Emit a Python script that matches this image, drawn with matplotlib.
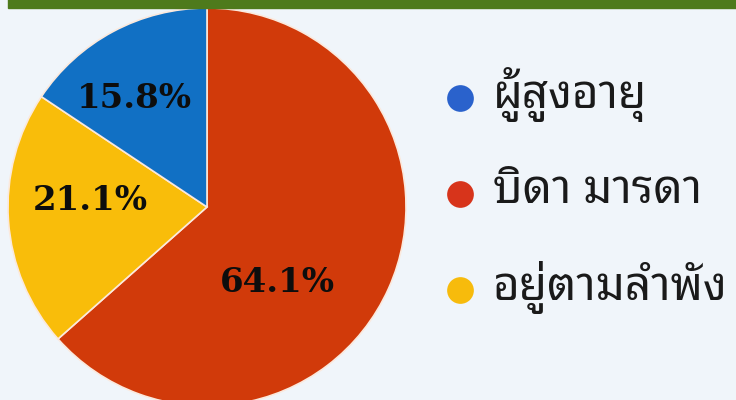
import matplotlib
matplotlib.use("Agg")
import matplotlib.pyplot as plt
from matplotlib.patches import Rectangle

# data (pie order: clockwise from 12 o'clock)
slice_names = ["บิดา มารดา", "อยู่ตามลำพัง", "ผู้สูงอายุ"]
slice_values = [64.1, 21.1, 15.8]
slice_labels = ["64.1%", "21.1%", "15.8%"]
slice_colors = ["#d13a0a", "#f9bd0a", "#1170c4"]

# legend order as shown on the right
legend_names = ["ผู้สูงอายุ", "บิดา มารดา", "อยู่ตามลำพัง"]
legend_colors = ["#2a62cc", "#d7341b", "#f7bb0c"]

bg = "#f0f5fa"
fig = plt.figure(figsize=(7.36, 4.0), dpi=100, facecolor=bg)
ax = fig.add_axes([0, 0, 1, 1])
ax.set_facecolor(bg)

wedges, _ = ax.pie(slice_values, colors=slice_colors, startangle=90,
                   counterclock=False, center=(207, 193), radius=199,
                   wedgeprops=dict(edgecolor="#fbe9dd", linewidth=1.2),
                   frame=True)
ax.set_xlim(0, 736)
ax.set_ylim(0, 400)
ax.set_aspect("equal")
ax.axis("off")

# label spots, per slice
label_pos = [(277, 117), (90, 199), (134, 301)]
for (x, y), t in zip(label_pos, slice_labels):
    ax.text(x, y, t, ha="center", va="center", fontsize=24.5,
            fontweight="heavy", family="DejaVu Serif",
            color="#0d0d0d")

# green band at the top
ax.add_patch(Rectangle((8, 392), 736, 10, color="#4e7a1c", zorder=5))

for i, (name, c) in enumerate(zip(legend_names, legend_colors)):
    y = 302 - i * 96
    ax.scatter([460], [y], s=370, color=c, zorder=6, linewidths=0)
    ax.text(493, y + 3, name, ha="left", va="center", fontsize=33,
            fontweight="semibold",
            family=["Noto Sans Thai Looped", "DejaVu Sans"], color="#1a1a1a")

fig.savefig("out.png", dpi=100, facecolor=bg)
